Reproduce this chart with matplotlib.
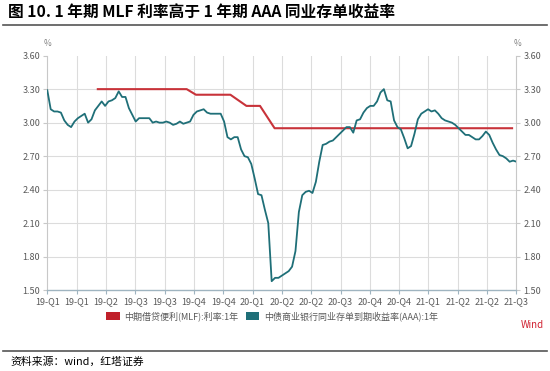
import matplotlib
matplotlib.use('Agg')
import matplotlib.pyplot as plt
from matplotlib.patches import Patch
import pandas as pd
import numpy as np

plt.rcParams['font.family'] = ['Noto Sans CJK SC', 'DejaVu Sans']

# Data (weekly samples of the 1Y AAA NCD yield, %)
start_date = '2019-01-03'
end_date = '2021-08-26'
aaa_yield = [
    3.29, 3.12, 3.10, 3.10, 3.09, 3.02, 2.98, 2.96, 3.01, 3.04,
    3.06, 3.08, 3.00, 3.03, 3.11, 3.15, 3.19, 3.15, 3.19, 3.20,
    3.22, 3.28, 3.23, 3.23, 3.13, 3.07, 3.01, 3.04, 3.04, 3.04,
    3.04, 3.00, 3.01, 3.00, 3.00, 3.01, 3.00, 2.98, 2.99, 3.01,
    2.99, 3.00, 3.01, 3.07, 3.10, 3.11, 3.12, 3.09, 3.08, 3.08,
    3.08, 3.08, 3.01, 2.87, 2.85, 2.87, 2.87, 2.76, 2.70, 2.69,
    2.63, 2.50, 2.36, 2.35, 2.22, 2.10, 1.58, 1.61, 1.61, 1.63,
    1.65, 1.67, 1.71, 1.85, 2.20, 2.35, 2.38, 2.39, 2.37, 2.47,
    2.65, 2.80, 2.81, 2.83, 2.84, 2.87, 2.90, 2.93, 2.96, 2.96,
    2.91, 3.02, 3.03, 3.09, 3.13, 3.15, 3.15, 3.19, 3.27, 3.30,
    3.20, 3.19, 3.02, 2.96, 2.94, 2.86, 2.77, 2.79, 2.90, 3.03,
    3.08, 3.10, 3.12, 3.10, 3.11, 3.08, 3.04, 3.02, 3.01, 3.00,
    2.98, 2.95, 2.92, 2.89, 2.89, 2.87, 2.85, 2.85, 2.88, 2.92,
    2.89, 2.82, 2.76, 2.71, 2.70, 2.68, 2.65, 2.66, 2.65,
]

# MLF 1Y rate at operation dates where it changes
mlf_dates = ['2019-04-17', '2019-10-17', '2019-11-05', '2020-01-15',
             '2020-02-17', '2020-03-16', '2020-04-15', '2021-08-17']
mlf_rate = [3.30, 3.30, 3.25, 3.25, 3.15, 3.15, 2.95, 2.95]

x_labels = ['19-Q1', '19-Q1', '19-Q2', '19-Q3', '19-Q3', '19-Q4', '19-Q4',
            '20-Q1', '20-Q2', '20-Q2', '20-Q3', '20-Q4', '20-Q4',
            '21-Q1', '21-Q2', '21-Q2', '21-Q3']
y_ticks = [1.50, 1.80, 2.10, 2.40, 2.70, 3.00, 3.30, 3.60]

title = '图 10. 1 年期 MLF 利率高于 1 年期 AAA 同业存单收益率'
legend_labels = ['中期借贷便利(MLF):利率:1年', '中债商业银行同业存单到期收益率(AAA):1年']
source = '资料来源：wind，红塔证券'

red = '#c8333a'
teal = '#1f6f78'
grid_c = '#dcdcdc'
text_c = '#595959'

aaa_dates = pd.date_range(start_date, periods=len(aaa_yield), freq='7D')
mlf_x = pd.to_datetime(mlf_dates)

fig = plt.figure(figsize=(5.5, 3.71), dpi=100)
ax = fig.add_axes([0.086, 0.218, 0.853, 0.632])

ax.plot(mlf_x, mlf_rate, color=red, lw=1.5, zorder=3)
ax.plot(aaa_dates, aaa_yield, color=teal, lw=1.3, zorder=4)

# axes limits and ticks
x0, x1 = pd.Timestamp(start_date), pd.Timestamp(end_date)
ax.set_xlim(x0, x1)
ax.set_ylim(1.5, 3.6)
tick_pos = pd.to_datetime(np.linspace(x0.value, x1.value, len(x_labels)))
ax.set_xticks(tick_pos)
ax.set_xticklabels(x_labels, fontsize=6.5, color=text_c)
ax.set_yticks(y_ticks)
ax.set_yticklabels([f'{v:.2f}' for v in y_ticks], fontsize=6.5, color=text_c)
ax.tick_params(axis='x', length=3, color='#9fb4c0', pad=2)
ax.tick_params(axis='y', length=3, color='#c8c8c8', pad=2,
               labelright=True, right=True)

# grid
for v in y_ticks[1:-1]:
    ax.axhline(v, color=grid_c, lw=0.8, zorder=1)
for t in tick_pos[1:-1]:
    ax.axvline(t, color=grid_c, lw=0.8, zorder=1)

for side in ['left', 'right']:
    ax.spines[side].set_color('#c8c8c8')
    ax.spines[side].set_linewidth(0.8)
ax.spines['top'].set_visible(False)
ax.spines['bottom'].set_color('#9fb4c0')
ax.spines['bottom'].set_linewidth(1.0)

# % unit labels
fig.text(47.5 / 550, 1 - 44 / 371, '%', fontsize=6, color='#808080', ha='center', va='center')
fig.text(517 / 550, 1 - 44 / 371, '%', fontsize=6, color='#808080', ha='center', va='center')

# title and rules
fig.text(8 / 550, 1 - 12 / 371, title, fontsize=11.3, fontweight='bold', ha='left', va='center')
fig.add_artist(plt.Line2D([3 / 550, 547 / 550], [1 - 25 / 371] * 2, color='#555555', lw=1.2))
fig.add_artist(plt.Line2D([3 / 550, 547 / 550], [1 - 351 / 371] * 2, color='#555555', lw=1.2))
fig.text(10 / 550, 1 - 362 / 371, source, fontsize=7.8, ha='left', va='center')

# legend
handles = [Patch(facecolor='#c0202a'), Patch(facecolor=teal)]
fig.legend(handles, legend_labels, loc='center', bbox_to_anchor=(272 / 550, 1 - 316 / 371),
           ncol=2, frameon=False, fontsize=6.5, handlelength=1.5, handleheight=0.9,
           handletextpad=0.5, columnspacing=0.8, labelcolor=text_c)

fig.text(544 / 550, 1 - 325 / 371, 'Wind', fontsize=7, color='#d02030', ha='right', va='center')

fig.savefig('out.png', dpi=100)
